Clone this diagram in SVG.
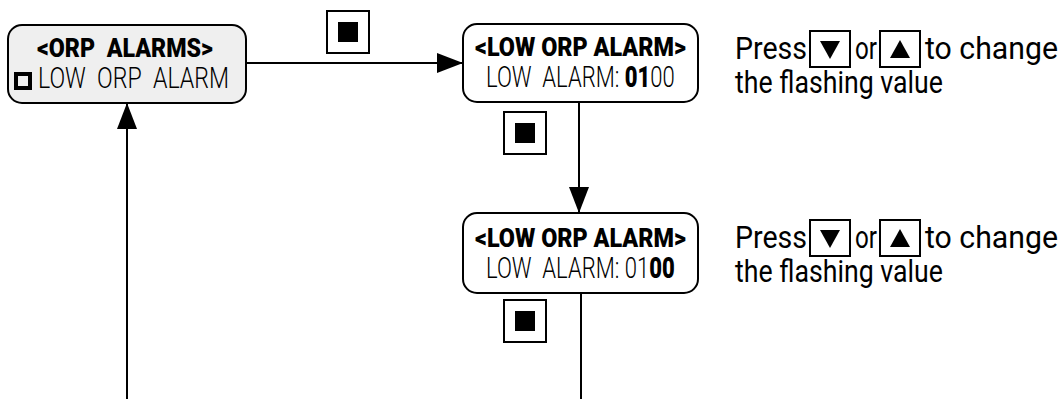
<svg xmlns="http://www.w3.org/2000/svg" width="1064" height="399" viewBox="0 0 1064 399">
<style>
.box{fill:#fff;stroke:#000;stroke-width:2}
.ttl{font-family:Roboto,"Liberation Sans",sans-serif;font-weight:900;font-size:25px;fill:#000;white-space:pre}
.ln{font-family:Roboto,"Liberation Sans",sans-serif;font-weight:300;font-size:29px;fill:#000;white-space:pre}
.b{font-weight:900}
.txt{font-family:Roboto,"Liberation Sans",sans-serif;font-weight:400;font-size:31px;fill:#000}
.btn{fill:#fff;stroke:#000;stroke-width:2}
.wire{fill:none;stroke:#000;stroke-width:2}
</style>
<defs>
<marker id="ah" viewBox="0 0 26 20" refX="26" refY="10" markerWidth="26" markerHeight="20" markerUnits="userSpaceOnUse" orient="auto">
<path d="M0,0 L26,10 L0,20 Z" fill="#000"/>
</marker>
<g id="enter">
<rect x="0" y="0" width="42" height="42" class="btn"/>
<rect x="11" y="11" width="20" height="20" fill="#000"/>
</g>
</defs>
<g id="connectors">
<path class="wire" d="M246,63 H463" marker-end="url(#ah)"/>
<path class="wire" d="M579,102 V213" marker-end="url(#ah)"/>
<path class="wire" d="M581,293 V399"/>
<path class="wire" d="M127,399 V103" marker-end="url(#ah)"/>
<use href="#enter" x="327" y="11"/>
<use href="#enter" x="504" y="112"/>
<use href="#enter" x="504" y="300"/>
</g>
<g id="orp-alarms">
<rect x="8" y="25" width="238" height="78" rx="14" class="box" style="fill:#efefef"/>
<text x="37" y="57" class="ttl" textLength="176" lengthAdjust="spacingAndGlyphs">&lt;ORP  ALARMS&gt;</text>
<rect x="16" y="74" width="14" height="14" fill="none" stroke="#000" stroke-width="4"/>
<text x="38" y="88" class="ln" textLength="191" lengthAdjust="spacingAndGlyphs">LOW  ORP  ALARM</text>
</g>
<g id="low-orp-alarm-1">
<rect x="463" y="24" width="235" height="78" rx="14" class="box"/>
<text x="475" y="56" class="ttl" textLength="211" lengthAdjust="spacingAndGlyphs">&lt;LOW ORP ALARM&gt;</text>
<text transform="translate(486,87) scale(0.76,1)" class="ln">LOW  ALARM: <tspan class="b">01</tspan>00</text>
</g>
<g id="low-orp-alarm-2">
<rect x="463" y="213" width="235" height="80" rx="14" class="box"/>
<text x="475" y="247" class="ttl" textLength="211" lengthAdjust="spacingAndGlyphs">&lt;LOW ORP ALARM&gt;</text>
<text transform="translate(486,278) scale(0.76,1)" class="ln">LOW  ALARM: 01<tspan class="b">00</tspan></text>
</g>
<g id="note-1">
<text x="735" y="59" class="txt" textLength="72" lengthAdjust="spacingAndGlyphs">Press</text>
<rect x="810" y="31" width="40" height="36" class="btn"/>
<path d="M820,41 L840,41 L830,59 Z" fill="#000"/>
<text x="855" y="59" class="txt" textLength="22" lengthAdjust="spacingAndGlyphs">or</text>
<rect x="880" y="31" width="40" height="36" class="btn"/>
<path d="M890,58 L910,58 L900,40 Z" fill="#000"/>
<text x="925" y="59" class="txt" textLength="133" lengthAdjust="spacingAndGlyphs">to change</text>
<text x="735" y="93" class="txt" textLength="208" lengthAdjust="spacingAndGlyphs">the flashing value</text>
</g>
<g id="note-2">
<text x="735" y="248" class="txt" textLength="72" lengthAdjust="spacingAndGlyphs">Press</text>
<rect x="810" y="220" width="40" height="36" class="btn"/>
<path d="M820,230 L840,230 L830,248 Z" fill="#000"/>
<text x="855" y="248" class="txt" textLength="22" lengthAdjust="spacingAndGlyphs">or</text>
<rect x="880" y="220" width="40" height="36" class="btn"/>
<path d="M890,247 L910,247 L900,229 Z" fill="#000"/>
<text x="925" y="248" class="txt" textLength="133" lengthAdjust="spacingAndGlyphs">to change</text>
<text x="735" y="282" class="txt" textLength="208" lengthAdjust="spacingAndGlyphs">the flashing value</text>
</g>
</svg>
